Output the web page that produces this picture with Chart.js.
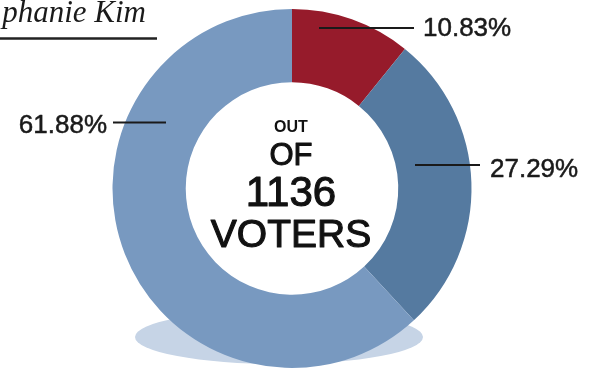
<!DOCTYPE html>
<html>
<head>
<meta charset="utf-8">
<script src="https://cdn.jsdelivr.net/npm/chart.js@4/dist/chart.umd.min.js"></script>
<style>
  html, body { margin: 0; padding: 0; background: #ffffff; }
  #wrap { width: 598px; height: 369px; position: relative; }
</style>
</head>
<body>
<div id="wrap"><canvas id="c" width="598" height="369"></canvas></div>
<script>
// ---- data ----
const categories = ['Group A', 'Group B', 'Group C'];
const shares = [10.83, 27.29, 61.88];
const centerLines = ['OUT', 'OF', '1136', 'VOTERS'];
const bylineText = 'phanie Kim';

// ---- styling ----
const segmentColors = ['#961b2b', '#557aa0', '#7899c0'];

function heavyText(ctx, t, x, y, w) {
  if (w > 0) {
    ctx.lineWidth = w;
    ctx.strokeText(t, x, y);
  }
  ctx.fillText(t, x, y);
}

const decorPlugin = {
  id: 'decor',
  beforeDatasetsDraw(chart) {
    const arc = chart.getDatasetMeta(0).data[0];
    const ctx = chart.ctx;
    ctx.save();
    ctx.fillStyle = '#c6d4e6';
    ctx.beginPath();
    ctx.ellipse(arc.x - 13, arc.y + 148.5, 144, 27, 0, 0, Math.PI * 2);
    ctx.fill();
    ctx.restore();
  },
  afterDraw(chart) {
    const arc = chart.getDatasetMeta(0).data[0];
    const cx = arc.x, cy = arc.y;
    const ctx = chart.ctx;
    ctx.save();
    ctx.lineJoin = 'round';
    // byline
    ctx.fillStyle = '#1a1a1a';
    ctx.strokeStyle = '#1a1a1a';
    ctx.font = 'italic 31px "Liberation Serif", "Times New Roman", serif';
    ctx.textAlign = 'right';
    ctx.textBaseline = 'alphabetic';
    heavyText(ctx, bylineText, 146, 22, 0);
    ctx.strokeStyle = '#222';
    ctx.lineWidth = 2.5;
    ctx.beginPath();
    ctx.moveTo(0, 38.5);
    ctx.lineTo(157, 38.5);
    ctx.stroke();

    // center text
    ctx.fillStyle = '#111';
    ctx.strokeStyle = '#111';
    ctx.textAlign = 'center';
    const centerStyle = [
      { font: 'bold 16px "Liberation Sans", Arial, sans-serif', dy: -56.5, w: 0 },
      { font: '31px "Liberation Sans", Arial, sans-serif', dy: -23.5, w: 1.0 },
      { font: '42px "Liberation Sans", Arial, sans-serif', dy: 17.5, w: 1.1 },
      { font: '39px "Liberation Sans", Arial, sans-serif', dy: 58.5, w: 1.1 }
    ];
    centerLines.forEach((t, i) => {
      ctx.font = centerStyle[i].font;
      heavyText(ctx, t, cx - 1, cy + centerStyle[i].dy, centerStyle[i].w);
    });

    // callouts
    const callouts = [
      { x1: 27, x2: 122, y: -160.5, tx: 131, ty: -152.5, align: 'left' },
      { x1: 123, x2: 188, y: -23.5, tx: 198, ty: -11.5, align: 'left' },
      { x1: -179, x2: -126, y: -66, tx: -185, ty: -55.5, align: 'right' }
    ];
    ctx.fillStyle = '#1a1a1a';
    ctx.strokeStyle = '#1a1a1a';
    ctx.font = '26px "Liberation Sans", Arial, sans-serif';
    callouts.forEach((c, i) => {
      ctx.lineWidth = 2;
      ctx.beginPath();
      ctx.moveTo(cx + c.x1, cy + c.y);
      ctx.lineTo(cx + c.x2, cy + c.y);
      ctx.stroke();
      ctx.textAlign = c.align;
      heavyText(ctx, shares[i].toFixed(2) + '%', cx + c.tx, cy + c.ty, 0.5);
    });
    ctx.restore();
  }
};

new Chart(document.getElementById('c'), {
  type: 'doughnut',
  data: {
    labels: categories,
    datasets: [{
      data: shares,
      backgroundColor: segmentColors,
      borderWidth: 0
    }]
  },
  options: {
    responsive: false,
    animation: false,
    cutout: '59.2%',
    layout: { padding: { top: 9, bottom: 1, left: 0, right: 14 } },
    plugins: {
      legend: { display: false },
      tooltip: { enabled: false },
      title: { display: false }
    }
  },
  plugins: [decorPlugin]
});
</script>
</body>
</html>
